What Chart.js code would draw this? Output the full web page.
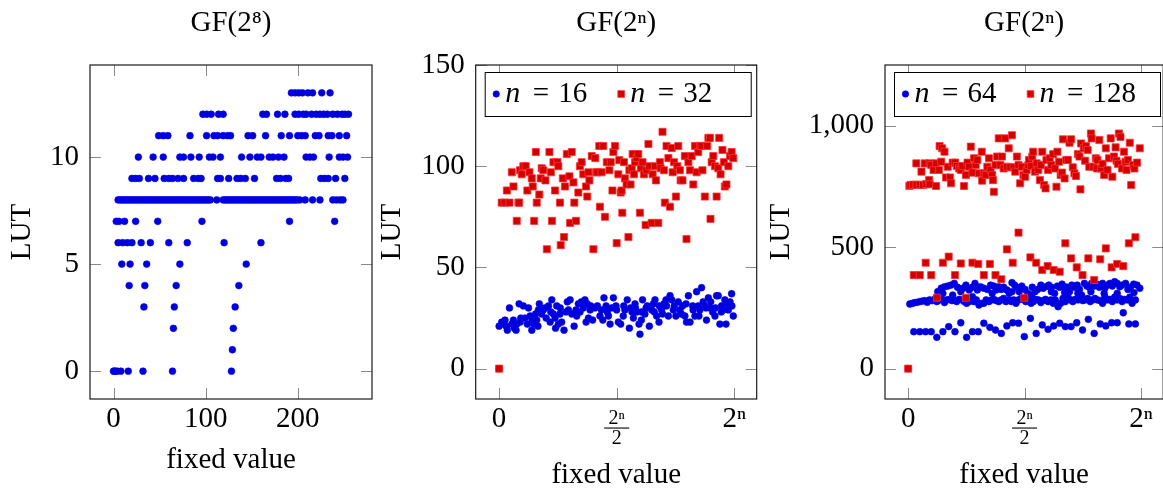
<!DOCTYPE html>
<html>
<head>
<meta charset="utf-8">
<script src="https://cdn.jsdelivr.net/npm/chart.js@4.4.1/dist/chart.umd.min.js"></script>
<style>
  html, body { margin: 0; padding: 0; background: #fff; overflow: hidden; }
  body { width: 1163px; height: 490px; position: relative; }
  canvas { position: absolute; top: 0; }
</style>
</head>
<body>
<canvas id="gf8" width="380" height="490" style="left:0px"></canvas>
<canvas id="gfSmall" width="388" height="490" style="left:378px"></canvas>
<canvas id="gfLarge" width="402" height="490" style="left:767px"></canvas>
<script>
// ---- data ----
// GF(2^8): fixed values (0..255) grouped by their LUT count (index = LUT)
const gf8ByLut = [
  [0, 1, 2, 4, 8, 16, 32, 64, 128],
  [129],
  [65, 130],
  [33, 66, 132],
  [17, 34, 68, 136],
  [9, 18, 36, 72, 144],
  [5, 10, 15, 20, 30, 40, 60, 80, 120, 160],
  [3, 6, 12, 24, 48, 96, 191, 240],
  [5, 7, 9, 11, 13, 15, 17, 19, 21, 23, 25, 27, 29, 31, 33, 35, 37, 39, 41, 43, 45, 47, 49, 51, 53, 55,
   57, 59, 61, 63, 65, 67, 69, 71, 73, 75, 77, 79, 81, 83, 85, 87, 89, 91, 93, 95, 97, 99, 101, 103, 105,
   112, 119, 121, 123, 125, 127, 129, 131, 133, 135, 137, 139, 141, 143, 145, 147, 149, 151, 153, 155,
   157, 159, 161, 163, 165, 167, 169, 171, 173, 175, 177, 179, 181, 183, 185, 187, 189, 191, 193, 195,
   197, 199, 202, 208, 216, 224, 238, 242, 246, 249],
  [20, 24, 28, 38, 45, 55, 60, 64, 70, 76, 87, 92, 95, 113, 116, 125, 134, 138, 143, 153, 177, 181, 187,
   190, 225, 229, 233, 241, 251],
  [27, 43, 54, 72, 76, 84, 93, 104, 108, 116, 139, 148, 156, 160, 169, 173, 179, 185, 209, 213, 217, 234,
   245, 249, 254],
  [49, 54, 59, 83, 101, 109, 113, 119, 124, 127, 146, 151, 165, 182, 191, 200, 204, 208, 219, 223, 233,
   237, 245, 253],
  [97, 101, 106, 114, 119, 162, 166, 178, 186, 197, 201, 206, 209, 215, 220, 224, 228, 232, 238, 243, 248,
   251, 255],
  [193, 197, 201, 205, 211, 216, 226, 235]
];
const gf8XTicks = [0, 100, 200];
const gf8YTicks = [0, 5, 10];

// GF(2^n): x = fixed value as percent of 2^n, y = LUT
const n16Points = [
  [0,0],[0,21],[1.1,23],[2.5,24],[3.5,19],[4.4,30],[5.4,22],[6.1,24],[7.2,19],[7.5,22],[8.5,32],[9.2,25],
  [10.3,31],[11,25],[12,22],[12.5,30],[13.2,26],[13.9,19],[14.6,22],[16,24],[16.7,29],[17.1,32],[18.1,27],
  [18.8,29],[20,25],[21,31],[21.7,23],[22.4,34],[23.1,27],[23.8,25],[24.5,31],[25.2,22],[25.9,27],[26.6,23],
  [27.6,19],[28.5,28],[29,33],[30.2,34],[30.9,27],[31.9,21],[32.7,29],[33.7,32],[34.4,28],[35.8,30],[36.5,34],
  [37.5,32],[38,25],[38.7,29],[39.8,24],[40.8,30],[41.8,31],[42.9,26],[44.1,24],[44.6,35],[45.5,31],[46.5,26],
  [47.2,22],[47.9,30],[48.6,35],[49.7,31],[50.7,23],[51.7,22],[52.8,26],[53.5,29],[54.5,34],[55.4,20],[55.9,30],
  [57.1,25],[57.8,32],[58.5,28],[59.5,22],[59.9,17],[60.6,28],[61,34],[62,27],[63,31],[63.9,21],[64.9,29],
  [65.6,32],[66.3,34],[67,26],[68.1,31],[69.1,29],[70.1,32],[71.2,31],[72,26],[72.7,36],[73.4,34],[74.1,29],
  [75.2,26],[76.2,33],[76.9,29],[78,31],[79,26],[79.7,23],[80.5,36],[81.2,23],[82.3,31],[83.3,26],[84,38],
  [84.7,31],[85.4,29],[86.1,40],[86.8,33],[87.5,31],[88.2,24],[89,35],[89.7,30],[90.8,28],[91.8,26],[92.5,36],
  [93.2,36],[93.9,22],[94.6,31],[95.3,29],[96.5,22],[97,32],[98.2,33],[98.9,37],[99.6,26],
  [2,22],[3,21],[6.5,20],[9,23],[14,24],[15.5,27],[19.5,30],[22,28],[26,30],[29.5,29],[33,26],[35,33],[39,31],
  [43.5,29],[46,28],[50,29],[53,31],[56.5,28],[58,30],[62.5,30],[66,28],[69.5,27],[71,34],[74.5,31],[77.5,27],
  [79.5,32],[82.5,29],[85,26],[88,30],[90,33],[92,30],[94.5,28],[96,34],[97.5,29],[99,31],[16.5,21],[24,20],
  [37,23],[60.5,24],[68,23]
];
const n32Points = [
  [0,0],[1.1,82],[2.3,82],[3.3,88],[4.4,82],[5.4,97],[6.1,90],[7.5,73],[8.2,82],[8.5,82],[8.9,98],[9.6,96],
  [10.3,100],[11.3,100],[12,88],[12.9,97],[13.9,94],[14.3,90],[14.9,73],[15.6,107],[16,82],[17.1,86],[17.7,94],
  [18.1,99],[18.8,98],[19.7,93],[20.3,59],[21.4,107],[22,97],[22.5,73],[23.1,102],[23.8,88],[24.8,102],
  [25.2,100],[25.9,82],[26.2,61],[27.1,94],[27.6,65],[28,90],[28.8,106],[29.9,95],[30.2,72],[30.9,107],
  [31.6,92],[32,82],[32.7,73],[33.7,87],[34.4,100],[35.1,102],[35.8,96],[37,90],[37.5,85],[38,97],[38.4,93],
  [39.4,105],[40.1,59],[40.9,104],[41.2,97],[41.8,97],[42.6,110],[42.9,80],[43.6,97],[44.3,110],[45,75],
  [45.8,102],[46.9,98],[47.5,102],[48.2,88],[48.6,107],[49.3,110],[50,62],[50.7,96],[51.1,103],[51.7,87],
  [52.1,88],[52.4,77],[53.1,102],[53.5,94],[54.2,91],[55,65],[55.4,98],[55.9,91],[56.4,99],[56.8,106],
  [57.4,96],[57.8,102],[58.5,104],[59.2,106],[59.9,77],[60.3,99],[61,102],[61.6,96],[62.3,71],[62.7,98],
  [63.5,111],[63.9,100],[64.9,72],[65.3,96],[66.3,100],[66.7,93],[67.7,72],[68.4,102],[68.7,99],[69.5,117],
  [70.1,98],[70.5,82],[71.2,110],[72,104],[72.7,80],[73.4,109],[73.8,97],[74.4,102],[75.2,85],[75.8,100],
  [76.2,110],[76.9,98],[77.2,93],[78,93],[79,105],[79.7,64],[80.5,102],[81.2,98],[81.9,105],[82.6,91],
  [83.3,110],[84,97],[84.7,107],[85.4,110],[86.1,110],[86.5,98],[87.5,85],[88.5,110],[89,114],[89.7,114],
  [89.9,74],[90.4,102],[91.1,105],[91.8,100],[92.5,85],[93.2,99],[93.6,114],[94.2,96],[95,108],[95.6,102],
  [96,90],[96.7,91],[97.5,100],[98.2,105],[98.9,107],[99.6,104]
];
const n64Points = [
  [0,0],
  [2.4,152],[5,152],[7.5,152],[9.9,152],[12.3,129],[14.9,152],[17.4,173],[20.1,152],[22.6,189],[25.1,129],
  [27.6,152],[30.1,152],[32.5,187],[35.1,170],[37.5,159],[40,145],[42.4,176],[44.9,189],[47.4,187],[49.9,132],
  [52.5,207],[55,145],[57.6,180],[60.1,162],[62.5,176],[65.1,187],[67.5,173],[70,173],[72.4,189],[74.9,159],
  [77.4,203],[79.9,145],[82.5,184],[84.9,176],[87.4,189],[89.8,189],[92.4,230],[94.8,184],[97.6,184],
  [0.7,266],[1.9,269],[2.8,272],[3.8,273],[5,276],[6.1,278],[7.1,280],[8.2,273],[9.2,283],[10.3,280],[11.3,285],
  [12.3,276],[13.5,283],[14.6,285],[15.6,272],[16.6,283],[17.7,285],[18.8,280],[19.8,283],[20.8,276],[21.9,285],
  [23.1,283],[24.1,276],[25.1,269],[26.2,276],[27.3,280],[28.3,276],[29.3,283],[30.4,262],[31.5,269],[32.5,269],
  [33.5,283],[34.7,276],[35.8,283],[36.8,285],[37.8,280],[38.9,276],[40,283],[41,289],[42,276],[43.2,283],
  [44.3,276],[45.3,283],[46.3,269],[47.4,283],[48.5,289],[49.5,285],[50.5,276],[51.6,283],[52.8,269],[53.8,276],
  [54.7,285],[55.9,283],[57,272],[58,280],[59,285],[60.1,276],[61.3,283],[62.3,269],[63.2,283],[64.4,255],
  [65.5,269],[66.5,289],[67.5,276],[68.6,296],[69.7,283],[70.7,276],[71.7,285],[72.9,283],[74,296],[75,280],
  [76,283],[77.1,289],[78.2,276],[79.2,283],[80.2,289],[81.3,283],[82.5,280],[83.5,269],[84.5,296],[85.6,283],
  [86.7,285],[87.7,276],[88.7,294],[89.8,283],[90.9,289],[91.9,276],[92.9,285],[94.1,283],[95.2,294],[96.2,269],
  [97.6,283],
  [12.7,317],[14.2,331],[15.6,337],[17,340],[18.4,344],[19.8,351],[21.2,335],[22.6,317],[23.6,331],[24.8,344],
  [26.2,324],[27.6,335],[28.7,351],[29.7,324],[31.1,337],[32.5,331],[34,326],[35.4,344],[36.8,340],[37.8,324],
  [38.9,337],[40,326],[41,335],[42.4,324],[43.4,310],[44.6,354],[45.7,344],[46.7,335],[47.7,317],[48.8,340],
  [50.2,326],[51.4,310],[52.3,296],[53.3,335],[54.5,317],[55.6,326],[57,344],[58,331],[59,337],[60.4,344],
  [61.5,335],[62.9,310],[64.1,340],[65.1,335],[66.1,348],[67.2,337],[68.3,335],[69.3,317],[70.3,344],[71.4,335],
  [72.6,344],[73.6,326],[74.5,303],[75.7,351],[76.8,340],[77.8,335],[78.8,351],[79.9,340],[81.1,348],[82.1,335],
  [83.5,351],[84.5,331],[85.6,344],[86.7,351],[87.7,340],[88.7,358],[89.8,351],[90.9,337],[91.9,344],[93.4,351],
  [94.4,326],[95.5,335],[96.9,348],[98.3,344],[99.5,331],
  [14.9,310],[19.1,303],[27.6,296],[36.1,310],[44.6,317],[53,303],[61.5,317],[67.2,313],[72.9,310],[78.5,317],
  [84.2,310],[89.8,310],[97,313]
];
const n128Points = [
  [0,0],
  [0.5,752],[1,756],[2.1,757],[3.5,757],[5,757],[6.4,756],[7.8,760],[9,776],[9.2,759],[12,752],[3.5,845],
  [5.7,811],[7.1,845],[9.2,845],[9.9,838],[10.9,818],[12,845],[13.2,818],[13.5,916],[14.6,907],[15.6,893],
  [14.2,852],[16.3,787],[17,831],[18,787],[18.4,763],[19.1,848],[20.2,848],[20.9,834],[21.9,824],[22.6,818],
  [23.3,834],[24,752],[24.8,797],[25.5,848],[26.2,831],[26.9,914],[27.6,807],[28.3,866],[29,838],[29.7,859],
  [30.4,804],[31.6,893],[31.8,774],[32.5,804],[33.3,797],[34,831],[34.7,866],[35.4,818],[36.1,797],[36.4,776],
  [36.8,728],[37.5,838],[38.2,873],[38.9,948],[39.6,838],[40.3,873],[41,824],[41.7,948],[42.4,831],[43.2,907],
  [43.9,829],[44.6,961],[45.3,829],[46,811],[46.7,873],[47.4,838],[48.1,763],[48.8,831],[49.5,797],[50.2,790],
  [50.9,818],[51.6,838],[51.9,859],[52.8,834],[53.3,873],[53.7,893],[54.5,811],[55.2,845],[55.9,818],[56.6,776],
  [57,838],[57.6,893],[58.4,756],[59,742],[59.4,859],[60.1,818],[60.8,866],[61.5,838],[62.3,883],[63,824],
  [63.7,749],[64.1,893],[64.8,852],[65.5,797],[66.1,807],[66.5,944],[67.2,783],[67.9,859],[68.6,859],[69.3,930],
  [70,944],[70.7,829],[71.4,804],[72.1,793],[72.9,883],[73.6,873],[74,738],[74.3,927],[75.4,907],[76,856],
  [76.4,916],[77.1,900],[77.8,831],[78.5,968],[78.8,948],[79.6,831],[80.6,866],[81.1,824],[81.3,859],[82.1,941],
  [82.8,824],[83.5,843],[84.2,797],[84.9,907],[85.6,818],[86.3,866],[87,948],[87.7,790],[88.4,873],[89.1,911],
  [89.5,856],[90.1,843],[90.5,968],[91.2,954],[91.9,824],[92.7,893],[93.4,852],[93.8,818],[94.4,859],[95.2,930],
  [95.8,756],[96.6,838],[97.2,824],[98.3,848],[99.5,907],
  [2.4,385],[5,385],[7.5,436],[9.9,385],[12.3,292],[14.9,436],[17.4,461],[20.1,385],[22.6,433],[24.8,292],
  [27.6,436],[30.1,431],[32.5,385],[35.1,431],[37.5,385],[40,368],[42.4,491],[44.9,436],[47.4,560],[49.9,292],
  [52.5,458],[55,436],[57.6,406],[59.9,422],[62.5,406],[65.1,399],[67.5,516],[70,454],[72.4,417],[74.9,385],
  [77.4,454],[79.9,365],[82.5,450],[84.9,495],[87.4,417],[89.8,431],[92.4,422],[94.8,516],[97.6,541]
];
const smallSizes = [16, 32];
const largeSizes = [64, 128];
const fracXTicks = [0, 50, 100];
const fracXLabels = ['0', ['2\u207F', '2'], '2\u207F'];
const smallYTicks = [0, 50, 100, 150];
const largeYTicks = [0, 500, 1000];

// ---- styling ----
const SERIF = "'Liberation Serif', 'DejaVu Serif', serif";
Chart.defaults.font.family = SERIF;
Chart.defaults.color = '#000';
const BLUE = { fill: 'rgb(0,0,215)', edge: 'rgb(0,0,255)' };
const RED = { fill: 'rgb(210,0,0)', edge: 'rgb(255,50,50)' };

const toXY = pts => pts.map(p => ({ x: p[0], y: p[1] }));

function blueSet(label, data) {
  return { label, data, pointStyle: 'circle', pointRadius: 3.4, borderWidth: 0.6,
           backgroundColor: BLUE.fill, borderColor: BLUE.edge, order: 1 };
}
function redSet(label, data) {
  return { label, data, pointStyle: 'rect', pointRadius: 5, borderWidth: 0.8,
           backgroundColor: RED.fill, borderColor: RED.edge, order: 0 };
}

function xScale(min, max, ticks, labels, fracValue, titleBottom) {
  return {
    type: 'linear', min, max,
    grid: { display: false, drawTicks: false },
    border: { display: false },
    afterBuildTicks: s => { s.ticks = ticks.map(v => ({ value: v })); },
    afterFit: s => { s.height = 91; },
    ticks: {
      padding: 10, autoSkip: false, maxRotation: 0, color: '#000',
      font: c => (c.tick && c.tick.value === fracValue)
        ? { size: 20, lineHeight: 1 } : { size: 29, lineHeight: 0.75 },
      callback: (v, i) => labels[i]
    },
    title: { display: true, text: 'fixed value', color: '#000',
             font: { size: 29, lineHeight: 1 }, padding: { top: 0, bottom: titleBottom } }
  };
}

function yScale(min, max, ticks, width, titleTop) {
  return {
    type: 'linear', min, max,
    grid: { display: false, drawTicks: false },
    border: { display: false },
    afterBuildTicks: s => { s.ticks = ticks.map(v => ({ value: v })); },
    afterFit: s => { s.width = width; },
    ticks: { padding: 11, color: '#000', font: { size: 29 },
             callback: v => v.toLocaleString('en-US') },
    title: { display: true, text: 'LUT', color: '#000',
             font: { size: 29, lineHeight: 1 }, padding: { top: titleTop, bottom: 0 } }
  };
}

// box around the plot with pgfplots-style inner tick marks
const frame = {
  id: 'frame',
  afterDatasetsDraw(chart) {
    const { ctx, chartArea: a, scales: { x, y } } = chart;
    const len = 11;
    ctx.save();
    ctx.strokeStyle = '#8a8a8a';
    ctx.lineWidth = 1;
    ctx.beginPath();
    x.ticks.forEach(t => {
      const p = Math.round(x.getPixelForValue(t.value)) + 0.5;
      ctx.moveTo(p, a.top); ctx.lineTo(p, a.top + len);
      ctx.moveTo(p, a.bottom); ctx.lineTo(p, a.bottom - len);
    });
    y.ticks.forEach(t => {
      const p = Math.round(y.getPixelForValue(t.value)) + 0.5;
      ctx.moveTo(a.left, p); ctx.lineTo(a.left + len, p);
      ctx.moveTo(a.right, p); ctx.lineTo(a.right - len, p);
    });
    ctx.stroke();
    ctx.strokeStyle = '#1a1a1a';
    ctx.lineWidth = 1.2;
    ctx.strokeRect(a.left, a.top, a.right - a.left, a.bottom - a.top);
    ctx.restore();
  }
};

// fraction bar for the 2^n/2 tick label
const fracBar = {
  id: 'fracBar',
  afterDraw(chart) {
    const s = chart.scales.x;
    const px = s.getPixelForValue(50);
    const ctx = chart.ctx;
    ctx.save();
    ctx.fillStyle = '#000';
    ctx.fillRect(px - 12.5, s.top + 28.5, 25, 1.1);
    ctx.restore();
  }
};

// legend box in the upper part of the plot, "n = ..." with italic n
const mathLegend = {
  id: 'mathLegend',
  afterDatasetsDraw(chart) {
    const { ctx, chartArea: a } = chart;
    const bx = a.left + 9.5, by = a.top + 7.5, bw = 266, bh = 44;
    ctx.save();
    ctx.fillStyle = '#fff';
    ctx.fillRect(bx, by, bw, bh);
    ctx.strokeStyle = '#000';
    ctx.lineWidth = 1;
    ctx.strokeRect(bx, by, bw, bh);
    const cy = by + bh / 2 - 0.5;
    chart.data.datasets.forEach((ds, i) => {
      const mx = bx + 11 + i * 125;
      ctx.fillStyle = ds.backgroundColor;
      ctx.strokeStyle = ds.borderColor;
      ctx.lineWidth = ds.borderWidth;
      Chart.helpers.drawPoint(ctx, { pointStyle: ds.pointStyle, radius: ds.pointRadius * 0.95,
                                     borderWidth: ds.borderWidth }, mx, cy);
      ctx.fillStyle = '#000';
      ctx.textBaseline = 'middle';
      ctx.textAlign = 'left';
      ctx.font = 'italic 30px ' + SERIF;
      ctx.fillText('n', mx + 9, cy);
      ctx.font = '29px ' + SERIF;
      ctx.fillText('=', mx + 36.5, cy);
      ctx.fillText(String(ds.size), mx + 62, cy);
    });
    ctx.restore();
  }
};

function titleOpts(text) {
  return { display: true, text, fullSize: false, color: '#000',
           font: { size: 29, weight: 'normal', lineHeight: 1.2 },
           padding: { top: 5.6, bottom: 24.6 } };
}

function baseOptions(title, rightPad, x, y) {
  return {
    responsive: false, animation: false, events: [],
    layout: { padding: { left: 0, right: rightPad, top: 0, bottom: 0 } },
    plugins: { legend: { display: false }, tooltip: { enabled: false }, title: titleOpts(title) },
    scales: { x, y }
  };
}

// ---- GF(2^8) ----
const gf8Points = gf8ByLut.flatMap((xs, lut) => xs.map(v => ({ x: v, y: lut })));
new Chart(document.getElementById('gf8'), {
  type: 'scatter',
  data: { datasets: [blueSet('GF(2^8)', gf8Points)] },
  options: baseOptions('GF(2\u2078)', 8,
    xScale(-25.5, 280.5, gf8XTicks, gf8XTicks.map(String), null, 15.5),
    yScale(-1.3, 14.3, gf8YTicks, 90, 7.5)),
  plugins: [frame]
});

// ---- GF(2^n), n = 16, 32 ----
const smallSets = [blueSet('n = 16', toXY(n16Points)), redSet('n = 32', toXY(n32Points))];
smallSets.forEach((d, i) => { d.size = smallSizes[i]; });
new Chart(document.getElementById('gfSmall'), {
  type: 'scatter',
  data: { datasets: smallSets },
  options: baseOptions('GF(2\u207F)', 9.3,
    xScale(-9.96, 109.56, fracXTicks, fracXLabels, 50, 0),
    yScale(-15, 150, smallYTicks, 97.7, 0)),
  plugins: [frame, fracBar, mathLegend]
});

// ---- GF(2^n), n = 64, 128 ----
const largeSets = [blueSet('n = 64', toXY(n64Points)), redSet('n = 128', toXY(n128Points))];
largeSets.forEach((d, i) => { d.size = largeSizes[i]; });
new Chart(document.getElementById('gfLarge'), {
  type: 'scatter',
  data: { datasets: largeSets },
  options: baseOptions('GF(2\u207F)', 2.5,
    xScale(-9.96, 109.56, fracXTicks, fracXLabels, 50, 0),
    yScale(-125, 1250, largeYTicks, 118, 0)),
  plugins: [frame, fracBar, mathLegend]
});
</script>
</body>
</html>
